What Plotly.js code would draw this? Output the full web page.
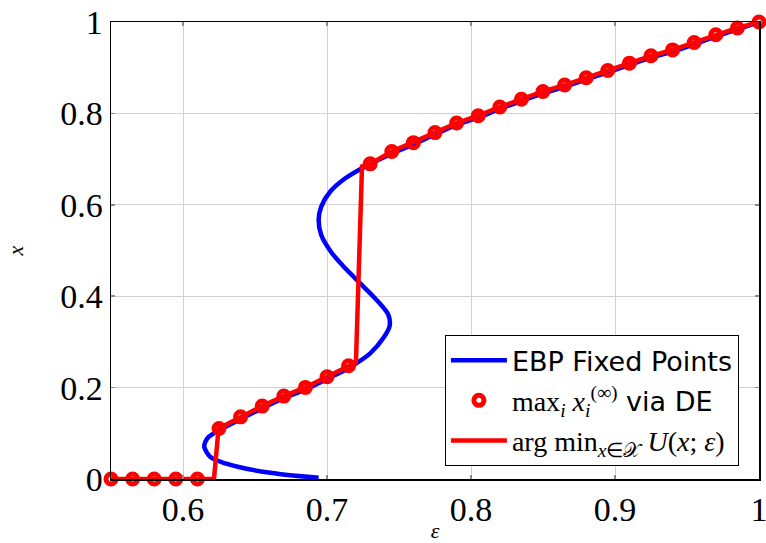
<!DOCTYPE html>
<html>
<head>
<meta charset="utf-8">
<script src="https://cdn.plot.ly/plotly-3.0.1.min.js"></script>
<style>html,body{margin:0;padding:0;background:#fff;}#chart{width:766px;height:543px;}</style>
</head>
<body>
<div id="chart"></div>
<script>
// EBP fixed-point curve (epsilon, x)
const ebpEps = [0.6942,0.678,0.6594,0.6433,0.6294,0.619,0.6148,0.6155,0.6178,0.6247,0.64,0.655,0.67,0.685,0.70,0.715,0.730,0.7395,0.7435,0.7425,0.7335,0.7231,0.7127,0.7035,0.696,0.6942,0.696,0.7023,0.7127,0.7266,0.745,0.76,0.775,0.79,0.805,0.82,0.835,0.85,0.865,0.88,0.895,0.91,0.925,0.94,0.955,0.97,0.985,1.0];
const ebpX   = [0.003,0.007,0.014,0.023,0.034,0.048,0.070,0.081,0.092,0.106,0.131,0.155,0.177,0.196,0.219,0.243,0.275,0.31,0.335,0.36,0.395,0.428,0.461,0.494,0.534,0.567,0.596,0.629,0.658,0.684,0.712,0.732,0.754,0.775,0.791,0.810,0.827,0.844,0.858,0.874,0.890,0.906,0.922,0.935,0.951,0.968,0.984,1.0];

// DE results (markers)
const deEps = [0.55,0.565,0.58,0.595,0.61,0.625,0.64,0.655,0.67,0.685,0.70,0.715,0.73,0.745,0.76,0.775,0.79,0.805,0.82,0.835,0.85,0.865,0.88,0.895,0.91,0.925,0.94,0.955,0.97,0.985,1.0];
const deX   = [0,0,0,0,0,0.1106,0.136,0.1595,0.1814,0.2004,0.2237,0.2478,0.6896,0.7166,0.736,0.758,0.779,0.795,0.814,0.831,0.848,0.862,0.878,0.894,0.910,0.926,0.939,0.955,0.972,0.987,1.0];

// argmin of potential U
const minEps = [0.55,0.6215,0.6247,0.64,0.655,0.67,0.685,0.70,0.715,0.7201,0.7243,0.73,0.745,0.76,0.775,0.79,0.805,0.82,0.835,0.85,0.865,0.88,0.895,0.91,0.925,0.94,0.955,0.97,0.985,1.0];
const minX   = [0,0,0.1106,0.136,0.1595,0.1814,0.2004,0.2237,0.2478,0.255,0.684,0.6896,0.7166,0.736,0.758,0.779,0.795,0.814,0.831,0.848,0.862,0.878,0.894,0.910,0.926,0.939,0.955,0.972,0.987,1.0];

const xTicks = [0.6,0.7,0.8,0.9,1];
const yTicks = [0,0.2,0.4,0.6,0.8,1];

const serif = "Liberation Serif";
const sans = "DejaVu Sans";
const m = s => '<span style="font-family:Liberation Serif;font-size:28px">' + s + '</span>';

const traces = [
  {x: ebpEps, y: ebpX, mode: 'lines', name: 'EBP Fixed Points', legendgroup: 'a',
   line: {color: '#0000ff', width: 4.5, shape: 'spline', smoothing: 0.8}, legendrank: 1},
  {x: minEps, y: minX, mode: 'lines', legendgroup: 'c',
   name: m('arg min<sub><i>x</i>∈𝒳</sub> <i>U</i>(<i>x</i>; <i>ε</i>)'),
   line: {color: '#ff0000', width: 4.5}, legendrank: 3, cliponaxis: false},
  {x: deEps, y: deX, mode: 'markers', legendgroup: 'b',
   name: m('max<sub><i>i</i></sub> <i>x</i><sub><i>i</i></sub><sup>(∞)</sup>') + ' via DE',
   marker: {symbol: 'circle-open', size: 10, color: '#ff0000', line: {width: 5, color: '#ff0000'}},
   legendrank: 2, cliponaxis: false}
];

const axisCommon = {
  showline: true, mirror: 'ticks', linecolor: '#000', linewidth: 1.5,
  showgrid: true, gridcolor: '#d0d0d0', gridwidth: 1,
  ticks: 'inside', ticklen: 4, tickcolor: '#888', tickwidth: 1.5,
  zeroline: false, ticklabeloverflow: 'allow',
  tickfont: {family: serif, size: 34, color: '#000'}
};

const layout = {
  width: 766, height: 543,
  margin: {l: 111, r: 7, t: 22, b: 64},
  paper_bgcolor: '#fff', plot_bgcolor: '#fff',
  showlegend: true,
  xaxis: Object.assign({}, axisCommon, {
    range: [0.55, 1], tickvals: xTicks, ticktext: xTicks.map(String),
    title: {text: '<i>ε</i>', font: {family: serif, size: 22, color: '#000'}, standoff: 2}
  }),
  yaxis: Object.assign({}, axisCommon, {
    range: [0, 1], tickvals: yTicks, ticktext: yTicks.map(String),
    title: {text: '<i>x</i>', font: {family: serif, size: 22, color: '#000'}, standoff: 30}
  }),
  legend: {
    x: 0.969, y: 0.028, xanchor: 'right', yanchor: 'bottom',
    bgcolor: '#fff', bordercolor: '#000', borderwidth: 1,
    font: {family: sans, size: 27, color: '#000'},
    traceorder: 'grouped', tracegroupgap: 2, itemwidth: 56
  }
};

Plotly.newPlot('chart', traces, layout, {displayModeBar: false, staticPlot: true});
</script>
</body>
</html>
